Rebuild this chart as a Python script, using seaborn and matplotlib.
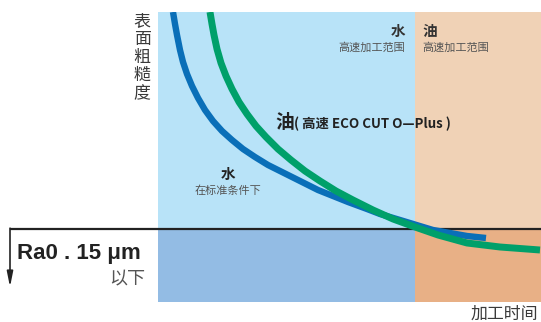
import matplotlib
matplotlib.use("Agg")
import matplotlib.pyplot as plt
import seaborn as sns
import pandas as pd

sns.set_style("white")
plt.rcParams['font.family'] = ['Noto Sans CJK SC', 'DejaVu Sans']

# Schematic data (arbitrary units: machining time vs. surface roughness)
water_time = [15, 17, 19, 22, 25, 29, 34, 40, 47, 55, 64, 74, 85, 97, 110, 124, 142, 160, 175, 190, 209, 222, 242, 275, 309, 328]
water_rough = [290, 278, 267, 252, 240, 228, 216, 204, 192, 181, 171, 162, 153, 145, 137, 130, 121, 112, 106, 100, 93, 88, 82, 72, 66, 64]
oil_time = [52, 54, 56, 59, 63, 68, 74, 81, 89, 98, 108, 120, 133, 147, 162, 178, 195, 215, 235, 257, 280, 309, 342, 382]
oil_rough = [290, 278, 267, 253, 239, 226, 213, 200, 188, 176, 165, 153, 142, 131, 121, 111, 102, 92, 83, 75, 67, 59, 55, 52]
threshold = 73          # Ra0.15 μm level
highspeed_start = 257   # start of oil high-speed range
x_max, y_max = 383, 290

df = pd.concat([
    pd.DataFrame({"time": water_time, "rough": water_rough, "fluid": "水"}),
    pd.DataFrame({"time": oil_time, "rough": oil_rough, "fluid": "油"}),
])

fig = plt.figure(figsize=(5.41, 3.22), dpi=100)
ax = fig.add_axes([158/541, 20/322, 383/541, 290/322])
ax.set_xlim(0, x_max)
ax.set_ylim(0, y_max)
ax.axis("off")

# background zones
ax.fill_between([0, highspeed_start], threshold, y_max, color="#B8E3F8", lw=0, zorder=0)
ax.fill_between([0, highspeed_start], 0, threshold, color="#93BCE4", lw=0, zorder=0)
ax.fill_between([highspeed_start, x_max], threshold, y_max, color="#F0D2B6", lw=0, zorder=0)
ax.fill_between([highspeed_start, x_max], 0, threshold, color="#E8B086", lw=0, zorder=0)

# threshold line with down arrow
ax.plot([-148, x_max], [threshold, threshold], color="#222222", lw=1.6, zorder=2,
        clip_on=False, solid_capstyle="butt")
ax.annotate("", xy=(-148, threshold - 58), xytext=(-148, threshold + 0.8),
            arrowprops=dict(arrowstyle="-|>,head_length=0.9,head_width=0.18",
                            color="#222222", lw=1.2, shrinkA=0, shrinkB=0),
            annotation_clip=False, zorder=3)

sns.lineplot(data=df, x="time", y="rough", hue="fluid", sort=False,
             palette={"水": "#0A6FB8", "油": "#00A06A"}, linewidth=4.6,
             legend=False, ax=ax, zorder=4)
for ln in ax.get_lines()[-2:]:
    ln.set_solid_capstyle("butt")
    ln.set_solid_joinstyle("round")
ax.get_lines()[-1].set_linewidth(5.0)

txt = "#3a3a3a"
gray = "#555555"
# y label
ax.text(-16, 290, "表\n面\n粗\n糙\n度", ha="center", va="top", fontsize=12.2,
        color=txt, linespacing=1.0, clip_on=False)
# x label
ax.text(380, -3, "加工时间", ha="right", va="top", fontsize=12.2, color=txt, clip_on=False)

# zone labels
ax.text(247, 271, "水", ha="right", va="center", fontsize=10.5, fontweight="bold", color="#333333")
ax.text(247, 254, "高速加工范围", ha="right", va="center", fontsize=8, color=gray)
ax.text(264, 271, "油", ha="left", va="center", fontsize=10.5, fontweight="bold", color="#333333")
ax.text(264, 254, "高速加工范围", ha="left", va="center", fontsize=8, color=gray)

ax.text(117, 179, "油", ha="left", va="center", fontsize=13.5, fontweight="bold", color="#222222")
ax.text(136, 178, "( 高速 ECO CUT O\u2014Plus )", ha="left", va="center", fontsize=9.6,
        fontweight="bold", color="#222222")

ax.text(70, 128, "水", ha="center", va="center", fontsize=10.5, fontweight="bold", color="#222222")
ax.text(70, 111, "在标准条件下", ha="center", va="center", fontsize=8, color=gray)

ax.text(-141, 48, "Ra0 . 15 μm", ha="left", va="center", fontsize=16, fontweight="bold",
        color="#222222", family=["Liberation Sans", "DejaVu Sans"], clip_on=False)
ax.text(-13, 23, "以下", ha="right", va="center", fontsize=13, color=gray, clip_on=False)

fig.savefig("out.png", dpi=100)
